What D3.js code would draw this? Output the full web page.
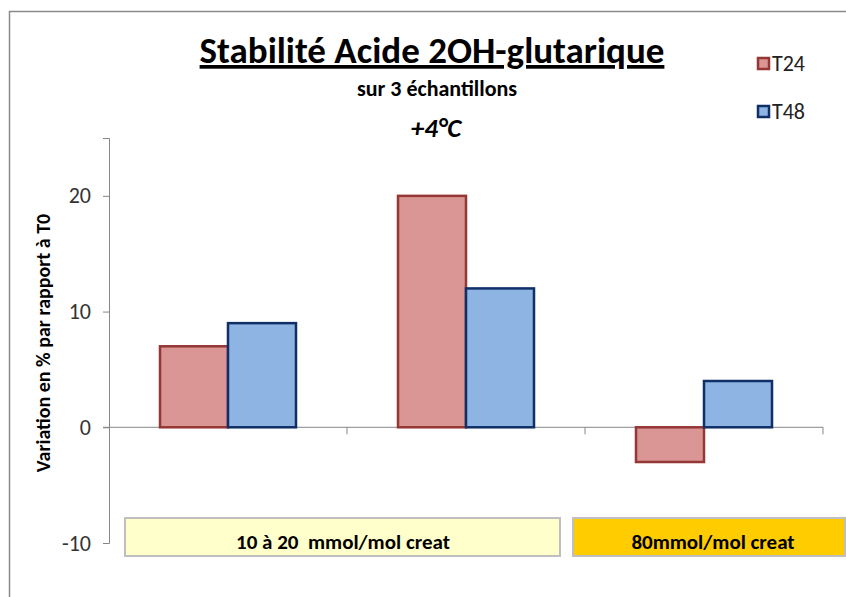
<!DOCTYPE html>
<html>
<head>
<meta charset="utf-8">
<script src="https://cdn.jsdelivr.net/npm/d3@7"></script>
<style>
  body { margin: 0; background: #fff; }
  text { font-family: Carlito, "Liberation Sans Narrow", "Open Sans", sans-serif; }
</style>
</head>
<body>
<div class="chart"></div>
<script>
var svgWidth = 846;
var svgHeight = 597;

// data
var categories = ["A", "B", "C"];
var seriesNames = ["T24", "T48"];
var t24 = [7, 20, -3];
var t48 = [9, 12, 4];
var yTicks = [-10, 0, 10, 20];
var groupLabels = ["10 à 20  mmol/mol creat", "80mmol/mol creat"];
var groupSpans = [["A", "B"], ["C", "C"]];

var fills = { T24: "#d99694", T48: "#8eb4e3" };
var strokes = { T24: "#953735", T48: "#0f2f66" };

var margin = { top: 138, left: 109, right: 23, bottom: 54 };
var width = svgWidth - margin.left - margin.right;
var height = svgHeight - margin.top - margin.bottom;

var svg = d3.select(".chart")
  .append("svg")
  .attr("width", svgWidth)
  .attr("height", svgHeight);

// outer chart frame
svg.append("rect")
  .attr("x", 9.5).attr("y", 11.5)
  .attr("width", 900).attr("height", 700)
  .attr("fill", "none")
  .attr("stroke", "#8a8a8a")
  .attr("stroke-width", 1.5);

var chartGroup = svg.append("g")
  .attr("transform", `translate(${margin.left}, ${margin.top})`);

var x0 = d3.scaleBand()
  .domain(categories)
  .range([0, width])
  .padding(0);

var x1 = d3.scaleBand()
  .domain(seriesNames)
  .range([0, x0.bandwidth()])
  .paddingInner(0)
  .paddingOuter(0.75);

var y = d3.scaleLinear()
  .domain([-10, 25])
  .range([height, 0]);

// y axis
var yAxis = chartGroup.append("g")
  .call(d3.axisLeft(y).tickValues(yTicks).tickSize(6).tickPadding(12)
    .tickFormat(function(d) { return String(d); }));
yAxis.select(".domain").attr("stroke", "#868686");
yAxis.selectAll(".tick line").attr("stroke", "#868686");
yAxis.selectAll("text")
  .style("font-size", "22px")
  .style("font-family", "Carlito, 'Liberation Sans Narrow', sans-serif")
  .attr("fill", "#333");

// zero line with category ticks
var xAxis = chartGroup.append("g")
  .attr("transform", `translate(0, ${y(0)})`)
  .call(d3.axisBottom(x0).tickValues([]).tickSizeOuter(0));
xAxis.select(".domain").attr("stroke", "#868686").attr("d", `M-6,0H${width}`);
xAxis.selectAll(".sep")
  .data(categories)
  .enter().append("line")
  .attr("x1", function(d) { return x0(d) + x0.bandwidth(); })
  .attr("x2", function(d) { return x0(d) + x0.bandwidth(); })
  .attr("y1", 0).attr("y2", 7)
  .attr("stroke", "#868686");

// bars
var rows = categories.map(function(c, i) {
  return { cat: c, values: [{ s: "T24", v: t24[i] }, { s: "T48", v: t48[i] }] };
});

var groups = chartGroup.selectAll(".cat")
  .data(rows)
  .enter().append("g")
  .attr("transform", function(d) { return `translate(${x0(d.cat)}, 0)`; });

groups.selectAll("rect")
  .data(function(d) { return d.values; })
  .enter().append("rect")
  .attr("x", function(d) { return x1(d.s); })
  .attr("width", x1.bandwidth())
  .attr("y", function(d) { return y(Math.max(0, d.v)); })
  .attr("height", function(d) { return Math.abs(y(d.v) - y(0)); })
  .attr("fill", function(d) { return fills[d.s]; })
  .attr("stroke", function(d) { return strokes[d.s]; })
  .attr("stroke-width", 2.5);

// group boxes below the plot
var boxes = svg.selectAll(".grp")
  .data(groupLabels)
  .enter().append("g");

boxes.append("rect")
  .attr("x", function(d, i) { return margin.left + x0(groupSpans[i][0]) + (i === 0 ? 16 : -12); })
  .attr("y", 518)
  .attr("width", function(d, i) {
    var a = x0(groupSpans[i][0]), b = x0(groupSpans[i][1]) + x0.bandwidth();
    return i === 0 ? b - a - 41 : b - a + 34;
  })
  .attr("height", 38)
  .attr("fill", function(d, i) { return i === 0 ? "#ffffcc" : "#ffcc00"; })
  .attr("stroke", "#bfbfbf")
  .attr("stroke-width", 2);

boxes.append("text")
  .attr("x", function(d, i) {
    var a = x0(groupSpans[i][0]), b = x0(groupSpans[i][1]) + x0.bandwidth();
    return margin.left + (a + b) / 2 + (i === 0 ? -4 : 9);
  })
  .attr("y", 549)
  .attr("text-anchor", "middle")
  .style("white-space", "pre")
  .style("font-size", "21px")
  .style("font-weight", "bold")
  .text(function(d) { return d; });

// titles
svg.append("text")
  .attr("x", 432).attr("y", 63)
  .attr("text-anchor", "middle")
  .style("font-size", "37px")
  .style("font-weight", "bold")
  .style("text-decoration", "underline")
  .text("Stabilité Acide 2OH-glutarique");

svg.append("text")
  .attr("x", 437).attr("y", 96)
  .attr("text-anchor", "middle")
  .style("font-size", "22px")
  .style("font-weight", "bold")
  .text("sur 3 échantillons");

svg.append("text")
  .attr("x", 436).attr("y", 137)
  .attr("text-anchor", "middle")
  .style("font-size", "27px")
  .style("font-weight", "bold")
  .style("font-style", "italic")
  .text("+4°C");

// y axis title
svg.append("text")
  .attr("transform", "translate(50, 343) rotate(-90)")
  .attr("text-anchor", "middle")
  .style("font-size", "20px")
  .style("font-weight", "bold")
  .text("Variation en % par rapport à T0");

// legend
var legend = svg.selectAll(".legend")
  .data(seriesNames)
  .enter().append("g")
  .attr("transform", function(d, i) { return `translate(758, ${58 + i * 48})`; });

legend.append("rect")
  .attr("width", 11).attr("height", 11)
  .attr("fill", function(d) { return fills[d]; })
  .attr("stroke", function(d) { return strokes[d]; })
  .attr("stroke-width", 2.5);

legend.append("text")
  .attr("x", 14).attr("y", 13)
  .style("font-size", "22px")
  .attr("fill", "#222")
  .text(function(d) { return d; });
</script>
</body>
</html>
